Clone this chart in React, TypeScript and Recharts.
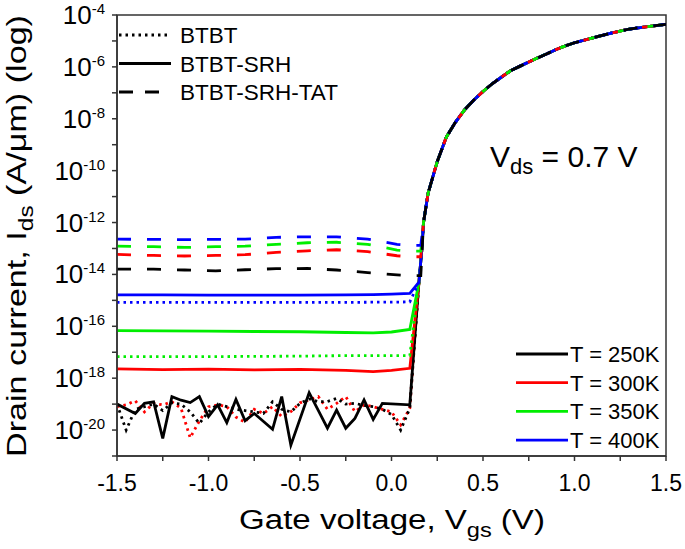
import React from 'react'
import { LineChart, Line, XAxis, YAxis, ReferenceArea } from 'recharts'

// gate voltage grid and log10(Ids) values
const V_MAIN = [0.175, 0.2, 0.25, 0.3, 0.35, 0.4, 0.45, 0.5, 0.55, 0.6, 0.65, 0.7, 0.75, 0.8, 0.85, 0.9, 0.95, 1.0, 1.1, 1.2, 1.3, 1.4, 1.5]
const LOG_MAIN = [-12.0, -10.87, -9.65, -8.7, -8.13, -7.65, -7.28, -6.95, -6.65, -6.4, -6.15, -5.98, -5.81, -5.65, -5.49, -5.33, -5.19, -5.07, -4.88, -4.7, -4.54, -4.45, -4.36]

const V_KNEE = [0.15, 0.165]
const LOG_KNEE = [-14.3, -13.1]

const V_FLAT = [-1.5, -1.25, -1.0, -0.75, -0.5, -0.25, -0.1, 0.0, 0.1]
const LOG_SRH_400 = [-14.79, -14.79, -14.8, -14.8, -14.8, -14.79, -14.78, -14.76, -14.73]
const LOG_BTBT_400 = [-15.08, -15.08, -15.08, -15.08, -15.08, -15.08, -15.07, -15.07, -15.06]
const LOG_SRH_350 = [-16.17, -16.18, -16.19, -16.2, -16.21, -16.24, -16.25, -16.22, -16.12]
const LOG_BTBT_350 = [-17.17, -17.17, -17.17, -17.16, -17.15, -17.13, -17.13, -17.13, -17.13]
const LOG_SRH_300 = [-17.64, -17.67, -17.65, -17.68, -17.66, -17.7, -17.75, -17.7, -17.62]

const V_TAT = [-1.5, -1.3, -1.13, -0.96, -0.8, -0.63, -0.46, -0.3, -0.13, 0.03, 0.1, 0.16]
const LOG_TAT_400 = [-12.64, -12.65, -12.66, -12.65, -12.64, -12.57, -12.55, -12.55, -12.64, -12.84, -12.88, -12.88]
const LOG_TAT_350 = [-12.91, -12.93, -12.96, -12.93, -12.91, -12.84, -12.78, -12.76, -12.84, -13.06, -13.1, -13.1]
const LOG_TAT_300 = [-13.23, -13.27, -13.29, -13.27, -13.24, -13.15, -13.09, -13.05, -13.12, -13.28, -13.32, -13.32]
const LOG_TAT_250 = [-13.8, -13.8, -13.83, -13.86, -13.82, -13.78, -13.77, -13.83, -13.93, -14.02, -14.05, -14.05]

const V_SRH_250 = [-1.5, -1.4, -1.35, -1.3, -1.25, -1.2, -1.15, -1.1, -1.05, -1.0, -0.95, -0.9, -0.85, -0.8, -0.75, -0.65, -0.6, -0.55, -0.45, -0.35, -0.3, -0.25, -0.2, -0.15, -0.1, -0.05, 0.1]
const LOG_SRH_250 = [-19.0, -19.36, -18.97, -18.91, -20.32, -18.71, -18.85, -18.94, -18.71, -19.48, -19.03, -19.71, -18.82, -19.64, -19.36, -19.97, -18.71, -20.58, -18.56, -19.93, -19.23, -19.93, -19.55, -18.84, -19.59, -18.97, -19.03]

const V_NOISE = [-1.5, -1.45, -1.4, -1.35, -1.3, -1.25, -1.2, -1.15, -1.1, -1.05, -1.0, -0.95, -0.9, -0.85, -0.8, -0.75, -0.7, -0.65, -0.6, -0.55, -0.5, -0.45, -0.4, -0.35, -0.3, -0.25, -0.2, -0.15, -0.1, -0.05, 0.0, 0.05, 0.1]
const LOG_BTBT_300 = [-19.1, -19.03, -18.87, -19.3, -18.97, -19.03, -18.91, -19.16, -20.3, -19.65, -19.1, -19.03, -19.1, -19.5, -19.7, -19.2, -19.36, -19.1, -19.48, -19.29, -18.95, -18.84, -18.71, -19.2, -18.97, -18.71, -19.29, -19.03, -19.1, -19.2, -19.3, -19.8, -19.16]
const LOG_BTBT_250 = [-19.0, -20.0, -19.2, -19.1, -19.0, -19.25, -18.95, -19.0, -19.3, -19.74, -19.3, -19.0, -19.1, -19.2, -19.25, -19.3, -19.36, -18.91, -19.2, -19.3, -18.97, -18.8, -18.91, -18.9, -18.78, -19.0, -18.97, -19.05, -19.1, -19.2, -19.4, -20.0, -19.16]

const X_TICKS = [-1.5, -1.25, -1.0, -0.75, -0.5, -0.25, 0, 0.25, 0.5, 0.75, 1.0, 1.25, 1.5]
const Y_TICK_EXP = [-21, -20, -19, -18, -17, -16, -15, -14, -13, -12, -11, -10, -9, -8, -7, -6, -5, -4]

const FONT = 'Liberation Sans, Arial, sans-serif'
const BLACK = '#000000'
const RED = '#ff0000'
const GREEN = '#00ee00'
const BLUE = '#0000ff'
const DOT = '2.5 4'
const DASH = '14 16'

const pts = (vs: number[], logs: number[]) => vs.map((v, k) => ({ v, i: Math.pow(10, logs[k]) }))
const rise = pts(V_MAIN, LOG_MAIN)
const kneeRise = pts(V_KNEE, LOG_KNEE).concat(rise)

// bottom to top drawing order
const SERIES = [
  { id: 'btbt300', data: pts(V_NOISE, LOG_BTBT_300).concat(kneeRise), color: RED, dash: DOT },
  { id: 'btbt250', data: pts(V_NOISE, LOG_BTBT_250).concat(kneeRise), color: BLACK, dash: DOT },
  { id: 'srh250', data: pts(V_SRH_250, LOG_SRH_250).concat(kneeRise), color: BLACK, dash: undefined },
  { id: 'srh300', data: pts(V_FLAT, LOG_SRH_300).concat(kneeRise), color: RED, dash: undefined },
  { id: 'btbt350', data: pts(V_FLAT, LOG_BTBT_350).concat(kneeRise), color: GREEN, dash: DOT },
  { id: 'srh350', data: pts(V_FLAT, LOG_SRH_350).concat(kneeRise), color: GREEN, dash: undefined },
  { id: 'btbt400', data: pts(V_FLAT, LOG_BTBT_400).concat(kneeRise), color: BLUE, dash: DOT },
  { id: 'srh400', data: pts(V_FLAT, LOG_SRH_400).concat(kneeRise), color: BLUE, dash: undefined },
  { id: 'tat300', data: pts(V_TAT, LOG_TAT_300).concat(rise), color: RED, dash: DASH },
  { id: 'tat350', data: pts(V_TAT, LOG_TAT_350).concat(rise), color: GREEN, dash: DASH },
  { id: 'tat400', data: pts(V_TAT, LOG_TAT_400).concat(rise), color: BLUE, dash: DASH },
  { id: 'tat250', data: pts(V_TAT, LOG_TAT_250).concat(rise), color: BLACK, dash: DASH },
]

const MODEL_LEGEND = [
  { label: 'BTBT', dash: DOT },
  { label: 'BTBT-SRH', dash: undefined },
  { label: 'BTBT-SRH-TAT', dash: '14 12' },
]
const TEMP_LEGEND = [
  { label: 'T = 250K', color: BLACK },
  { label: 'T = 300K', color: RED },
  { label: 'T = 350K', color: GREEN },
  { label: 'T = 400K', color: BLUE },
]

function XTick(props: any) {
  const { x, y, payload } = props
  const v = payload.value
  if (Math.abs(v * 2 - Math.round(v * 2)) > 1e-6) return <g />
  return (
    <text x={x} y={y} dy={28} textAnchor="middle" fontSize={23} fontFamily={FONT} fill="#000">
      {v.toFixed(1)}
    </text>
  )
}

function YTick(props: any) {
  const { x, y, payload } = props
  const e = Math.round(Math.log10(payload.value))
  if (e % 2 !== 0) return <g />
  return (
    <text x={x - 5} y={y} textAnchor="end" fontFamily={FONT} fill="#000">
      <tspan fontSize={26} dy={9}>10</tspan>
      <tspan fontSize={15} dy={-10}>{String(e)}</tspan>
    </text>
  )
}

export default function App() {
  return (
    <div style={{ position: 'absolute', left: 0, top: 0, width: 685, height: 549, background: '#fff', fontFamily: FONT }}>
      <LineChart width={685} height={549} margin={{ top: 15, right: 19, left: 0, bottom: 0 }}>
        <XAxis
          dataKey="v"
          type="number"
          domain={[-1.5, 1.5]}
          ticks={X_TICKS}
          interval={0}
          height={93}
          tickSize={5}
          tick={<XTick />}
          stroke="#333"
          strokeWidth={1.5}
          allowDataOverflow
        />
        <YAxis
          dataKey="i"
          type="number"
          scale="log"
          domain={[1e-21, 1e-4]}
          ticks={Y_TICK_EXP.map((e) => Math.pow(10, e))}
          interval={0}
          width={117}
          tickSize={5}
          tick={<YTick />}
          stroke="#333"
          strokeWidth={1.5}
          allowDataOverflow
        />
        <ReferenceArea x1={-1.5} x2={1.5} y1={1e-21} y2={1e-4} fill="none" stroke="#333" strokeWidth={1.5} />
        {SERIES.map((s) => (
          <Line
            key={s.id}
            data={s.data}
            dataKey="i"
            type="linear"
            stroke={s.color}
            strokeWidth={2.8}
            strokeDasharray={s.dash}
            dot={false}
            activeDot={false}
            isAnimationActive={false}
          />
        ))}
      </LineChart>
      <svg width={685} height={549} style={{ position: 'absolute', left: 0, top: 0, pointerEvents: 'none' }} fontFamily={FONT}>
        <text transform="translate(26,236) rotate(-90) scale(1.22,1)" textAnchor="middle" fontSize={28} fill="#000">
          Drain current, I<tspan fontSize={20} dy={7}>ds</tspan>
          <tspan dy={-7}> (A/μm) (log)</tspan>
        </text>
        <text transform="translate(392,529) scale(1.18,1)" textAnchor="middle" fontSize={28} fill="#000">
          Gate voltage, V<tspan fontSize={20} dy={8}>gs</tspan>
          <tspan dy={-8}> (V)</tspan>
        </text>
        <text x={490} y={167} fontSize={30} fill="#000">
          V<tspan fontSize={22} dy={7}>ds</tspan>
          <tspan dy={-7}> = 0.7 V</tspan>
        </text>
        {MODEL_LEGEND.map((m, k) => (
          <g key={m.label}>
            <line x1={119} x2={171} y1={35 + k * 28.5} y2={35 + k * 28.5} stroke="#000" strokeWidth={2.8} strokeDasharray={m.dash} />
            <text x={180} y={35 + k * 28.5 + 8} fontSize={22.5} fill="#000">{m.label}</text>
          </g>
        ))}
        {TEMP_LEGEND.map((t, k) => (
          <g key={t.label}>
            <line x1={516} x2={568} y1={354 + k * 28.7} y2={354 + k * 28.7} stroke={t.color} strokeWidth={2.8} />
            <text x={570} y={354 + k * 28.7 + 8} fontSize={22} fill="#000">{t.label}</text>
          </g>
        ))}
      </svg>
    </div>
  )
}
